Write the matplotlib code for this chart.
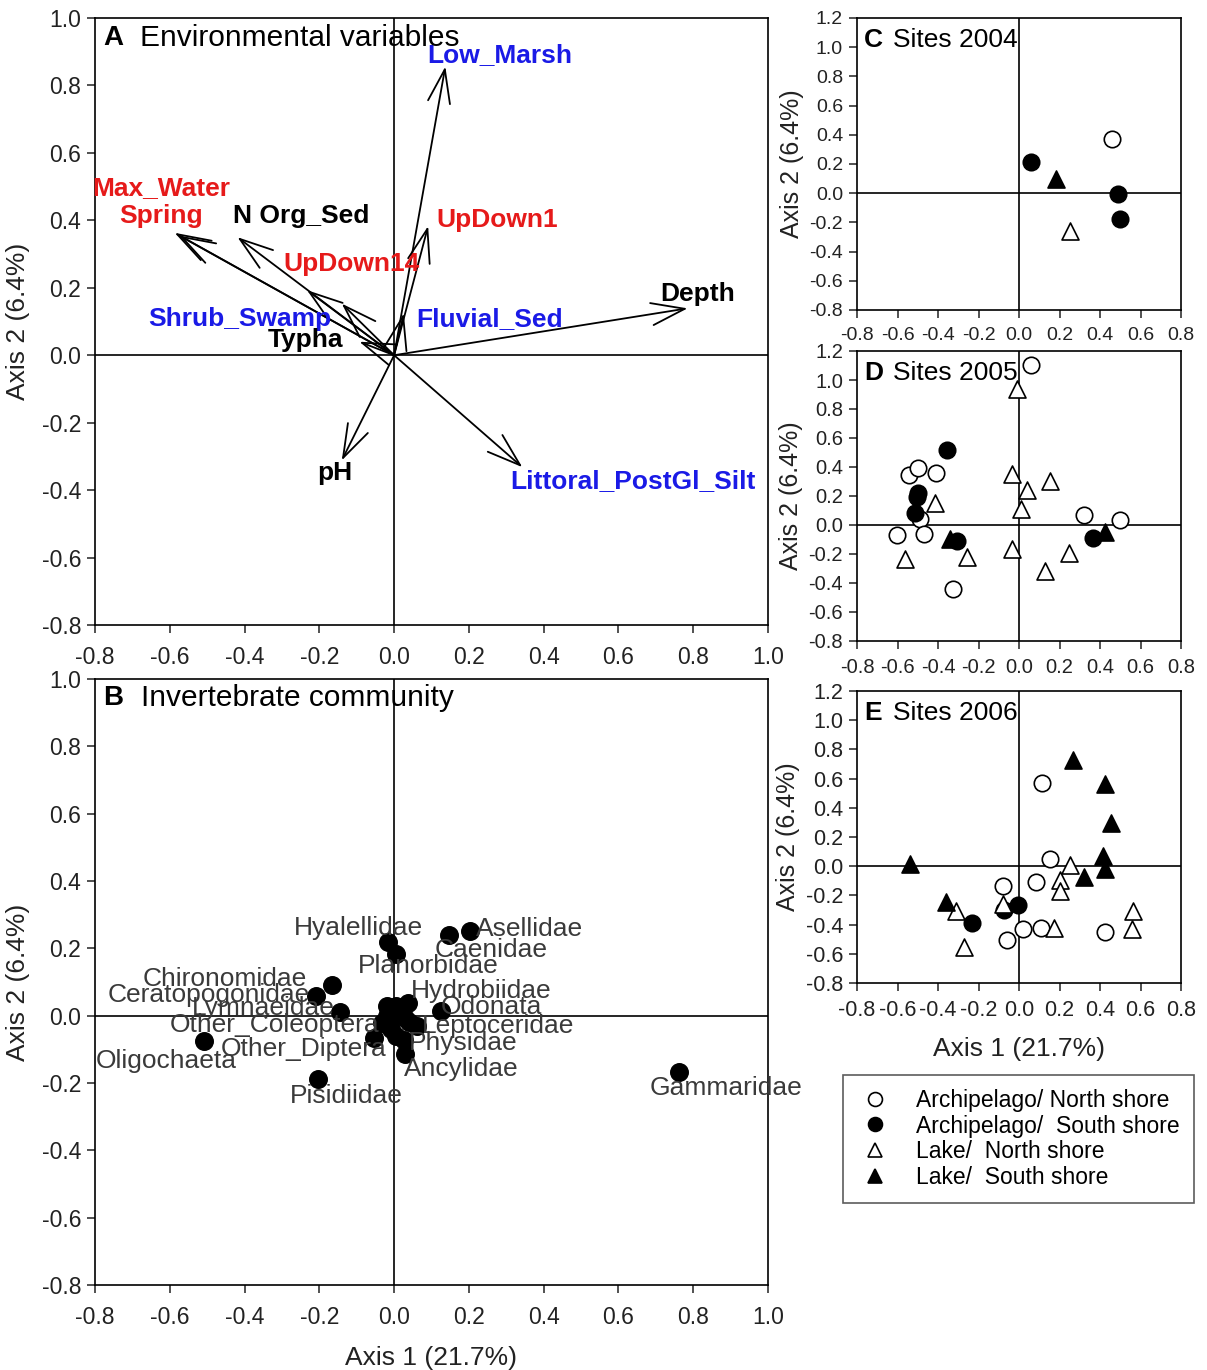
import matplotlib
matplotlib.use("Agg")
import matplotlib.pyplot as plt
from matplotlib.lines import Line2D
import numpy as np

plt.rcParams['font.family'] = ['Liberation Sans', 'DejaVu Sans']

# ---------------- Panel A: environmental variable vectors ----------------
env_names = ["Low_Marsh", "Max_Water", "Spring", "N Org_Sed", "UpDown1", "UpDown14",
             "Shrub_Swamp", "Typha", "Fluvial_Sed", "Depth", "pH", "Littoral_PostGl_Silt"]
env_x = [0.137, -0.587, -0.575, -0.419, 0.091, -0.14, -0.233, -0.093, 0.026, 0.785, -0.14, 0.343]
env_y = [0.856, 0.363, 0.355, 0.350, 0.383, 0.153, 0.193, 0.040, 0.124, 0.139, -0.312, -0.332]
env_lab_x = [0.283, -0.623, -0.623, -0.249, 0.275, -0.115, -0.412, -0.238, 0.254, 0.813, -0.158, 0.639]
env_lab_y = [0.891, 0.496, 0.412, 0.412, 0.400, 0.270, 0.107, 0.045, 0.107, 0.181, -0.350, -0.374]
env_colors = ["#1a1ae6", "#e61a1a", "#e61a1a", "black", "#e61a1a", "#e61a1a",
              "#1a1ae6", "black", "#1a1ae6", "black", "black", "#1a1ae6"]

# ---------------- Panel B: invertebrate taxa ----------------
taxa_names = ["Hyalellidae", "Planorbidae", "Caenidae", "Asellidae", "Chironomidae",
              "Ceratopogonidae", "Lymnaeidae", "Hydrobiidae", "Odonata", "Leptoceridae",
              "Physidae", "Ancylidae", "Other_Diptera", "Other_Coleoptera", "Oligochaeta",
              "Pisidiidae", "Gammaridae"]
taxa_x = [-0.017, 0.004, 0.148, 0.202, -0.167, -0.210, -0.146, 0.038, 0.126, 0.061,
          0.026, 0.028, -0.054, -0.033, -0.509, -0.204, 0.763]
taxa_y = [0.218, 0.184, 0.240, 0.252, 0.092, 0.059, 0.010, 0.038, 0.015, -0.032,
          -0.071, -0.114, -0.066, -0.022, -0.076, -0.188, -0.167]
taxa_lab_x = [-0.095, 0.091, 0.26, 0.363, -0.453, -0.496, -0.35, 0.233, 0.26, 0.278,
              0.184, 0.18, -0.243, -0.32, -0.609, -0.128, 0.888]
taxa_lab_y = [0.261, 0.148, 0.194, 0.258, 0.109, 0.062, 0.023, 0.074, 0.025, -0.032,
              -0.081, -0.158, -0.099, -0.027, -0.135, -0.239, -0.214]
# unlabeled taxa clustered at the origin
other_x = [-0.020, 0.004, 0.016, -0.008, 0.028, 0.040, -0.008, 0.004, -0.020]
other_y = [0.028, 0.030, 0.010, -0.002, -0.008, -0.020, -0.040, -0.060, 0.000]

# ---------------- Panels C-E: sites ----------------
groups = ["Archipelago/ North shore", "Archipelago/  South shore",
          "Lake/  North shore", "Lake/  South shore"]

s2004_arch_n_x = [0.459]
s2004_arch_n_y = [0.374]
s2004_arch_s_x = [0.058, 0.488, 0.498]
s2004_arch_s_y = [0.211, -0.005, -0.174]
s2004_lake_n_x = [0.253]
s2004_lake_n_y = [-0.257]
s2004_lake_s_x = [0.182]
s2004_lake_s_y = [0.100]

s2005_arch_n_x = [0.060, -0.545, -0.497, -0.409, -0.487, -0.604, -0.470, -0.326, 0.323, 0.498]
s2005_arch_n_y = [1.100, 0.344, 0.390, 0.356, 0.041, -0.069, -0.064, -0.438, 0.071, 0.032]
s2005_arch_s_x = [-0.356, -0.497, -0.502, -0.513, -0.306, 0.364]
s2005_arch_s_y = [0.516, 0.222, 0.195, 0.085, -0.110, -0.087]
s2005_lake_n_x = [-0.012, -0.417, -0.563, -0.257, -0.036, 0.038, 0.154, 0.010, -0.036, 0.245, 0.129]
s2005_lake_n_y = [0.940, 0.149, -0.234, -0.218, 0.355, 0.241, 0.303, 0.108, -0.167, -0.195, -0.314]
s2005_lake_s_x = [-0.340, 0.427]
s2005_lake_s_y = [-0.099, -0.046]

s2006_arch_n_x = [0.113, 0.154, 0.083, -0.078, 0.018, 0.109, -0.058, 0.424]
s2006_arch_n_y = [0.567, 0.046, -0.110, -0.133, -0.431, -0.420, -0.507, -0.454]
s2006_arch_s_x = [-0.232, -0.075, -0.007]
s2006_arch_s_y = [-0.390, -0.298, -0.264]
s2006_lake_n_x = [0.250, 0.204, 0.200, -0.081, -0.313, -0.273, 0.174, 0.565, 0.556]
s2006_lake_n_y = [0.009, -0.094, -0.167, -0.259, -0.310, -0.550, -0.424, -0.310, -0.427]
s2006_lake_s_x = [-0.538, 0.265, 0.427, 0.455, 0.416, 0.424, 0.323, -0.359]
s2006_lake_s_y = [0.016, 0.727, 0.562, 0.296, 0.073, -0.018, -0.076, -0.248]

ab_ticks = [-0.8, -0.6, -0.4, -0.2, 0.0, 0.2, 0.4, 0.6, 0.8, 1.0]
site_xticks = [-0.8, -0.6, -0.4, -0.2, 0.0, 0.2, 0.4, 0.6, 0.8]
site_yticks = [-0.8, -0.6, -0.4, -0.2, 0.0, 0.2, 0.4, 0.6, 0.8, 1.0, 1.2]

W, H = 1207, 1370
fig = plt.figure(figsize=(W / 100, H / 100), dpi=100)


def px_axes(left, top, right, bottom):
    return fig.add_axes([left / W, 1 - bottom / H, (right - left) / W, (bottom - top) / H])


def style(ax, xt, yt, fs, xpad, ypad):
    for s in ax.spines.values():
        s.set_linewidth(1.2)
    ax.set_xticks(xt)
    ax.set_yticks(yt)
    ax.set_xticklabels([f"{v:.1f}" for v in xt])
    ax.set_yticklabels([f"{v:.1f}" for v in yt])
    ax.tick_params(direction='out', length=6, width=1.1, labelsize=fs, colors='#222222')
    ax.tick_params(axis='x', pad=xpad)
    ax.tick_params(axis='y', pad=ypad)
    ax.axhline(0, color='black', lw=1.2, zorder=1)
    ax.axvline(0, color='black', lw=1.2, zorder=1)


# Panel A
axA = px_axes(95, 18, 768, 625)
axA.set_xlim(-0.8, 1.0)
axA.set_ylim(-0.8, 1.0)
style(axA, ab_ticks, ab_ticks, 16.5, 9, 4)
for i in range(len(env_names)):
    axA.annotate("", xy=(env_x[i], env_y[i]), xytext=(0, 0),
                 arrowprops=dict(arrowstyle="->,head_length=1.2,head_width=0.4",
                                 color='black', lw=1.3, shrinkA=0, shrinkB=0,
                                 mutation_scale=20))
    axA.text(env_lab_x[i], env_lab_y[i], env_names[i], color=env_colors[i],
             fontsize=19, fontweight='bold', ha='center', va='center')
axA.text(0.012, 0.967, "A", transform=axA.transAxes, fontsize=20, fontweight='bold',
         va='center', ha='left')
axA.text(0.067, 0.967, "Environmental variables", transform=axA.transAxes, fontsize=21.5,
         va='center', ha='left')
axA.set_ylabel("Axis 2 (6.4%)", fontsize=19, color='#222222', labelpad=8)

# Panel B
axB = px_axes(95, 679, 768, 1285)
axB.set_xlim(-0.8, 1.0)
axB.set_ylim(-0.8, 1.0)
style(axB, ab_ticks, ab_ticks, 16.5, 9, 4)
axB.scatter(other_x, other_y, s=160, color='black', zorder=3)
axB.scatter(taxa_x, taxa_y, s=160, color='black', zorder=3)
for i in range(len(taxa_names)):
    axB.text(taxa_lab_x[i], taxa_lab_y[i], taxa_names[i], fontsize=19, color='#3a3a3a',
             ha='center', va='center', zorder=4)
axB.text(0.012, 0.969, "B", transform=axB.transAxes, fontsize=20, fontweight='bold',
         va='center', ha='left')
axB.text(0.068, 0.969, "Invertebrate community", transform=axB.transAxes, fontsize=21.5,
         va='center', ha='left')
axB.set_ylabel("Axis 2 (6.4%)", fontsize=19, color='#222222', labelpad=8)
axB.set_xlabel("Axis 1 (21.7%)", fontsize=19, color='#222222', labelpad=12)

# Site panels
site_data = [
    ("C", "Sites 2004", (18, 310), 14,
     [(s2004_arch_n_x, s2004_arch_n_y), (s2004_arch_s_x, s2004_arch_s_y),
      (s2004_lake_n_x, s2004_lake_n_y), (s2004_lake_s_x, s2004_lake_s_y)]),
    ("D", "Sites 2005", (351, 641), 14.5,
     [(s2005_arch_n_x, s2005_arch_n_y), (s2005_arch_s_x, s2005_arch_s_y),
      (s2005_lake_n_x, s2005_lake_n_y), (s2005_lake_s_x, s2005_lake_s_y)]),
    ("E", "Sites 2006", (691, 983), 15.5,
     [(s2006_arch_n_x, s2006_arch_n_y), (s2006_arch_s_x, s2006_arch_s_y),
      (s2006_lake_n_x, s2006_lake_n_y), (s2006_lake_s_x, s2006_lake_s_y)]),
]
mk = [dict(marker='o', facecolor='white', size=140),
      dict(marker='o', facecolor='black', size=140),
      dict(marker='^', facecolor='white', size=150),
      dict(marker='^', facecolor='black', size=150)]

for letter, title, (top, bottom), tfs, series in site_data:
    ax = px_axes(857, top, 1181, bottom)
    ax.set_xlim(-0.8, 0.8)
    ax.set_ylim(-0.8, 1.2)
    style(ax, site_xticks, site_yticks, tfs, 6, 4)
    for (xs, ys), m in zip(series, mk):
        ax.scatter(xs, ys, marker=m['marker'], s=m['size'], facecolor=m['facecolor'],
                   edgecolor='black', linewidths=1.2, zorder=3)
    ax.text(0.022, 0.925, letter, transform=ax.transAxes, fontsize=19, fontweight='bold',
            va='center', ha='left')
    ax.text(0.111, 0.925, title, transform=ax.transAxes, fontsize=19,
            va='center', ha='left')
    ax.set_ylabel("Axis 2 (6.4%)", fontsize=18, color='#222222', labelpad=4)
    if letter == "E":
        ax.set_xlabel("Axis 1 (21.7%)", fontsize=19, color='#222222', labelpad=12)

handles = [Line2D([], [], linestyle='none', marker=m['marker'], markersize=10,
                  markerfacecolor=m['facecolor'], markeredgecolor='black',
                  markeredgewidth=1.2) for m in mk]
leg = fig.legend(handles, groups, loc='upper left', bbox_to_anchor=(843 / W, 1 - 1075 / H),
                 fontsize=16.5, frameon=True, fancybox=False, edgecolor='#333333',
                 handletextpad=1.0, labelspacing=0.12, borderpad=0.6, handlelength=1.6,
                 borderaxespad=0)
leg.get_frame().set_linewidth(1.2)

fig.savefig("out.png", dpi=100)
